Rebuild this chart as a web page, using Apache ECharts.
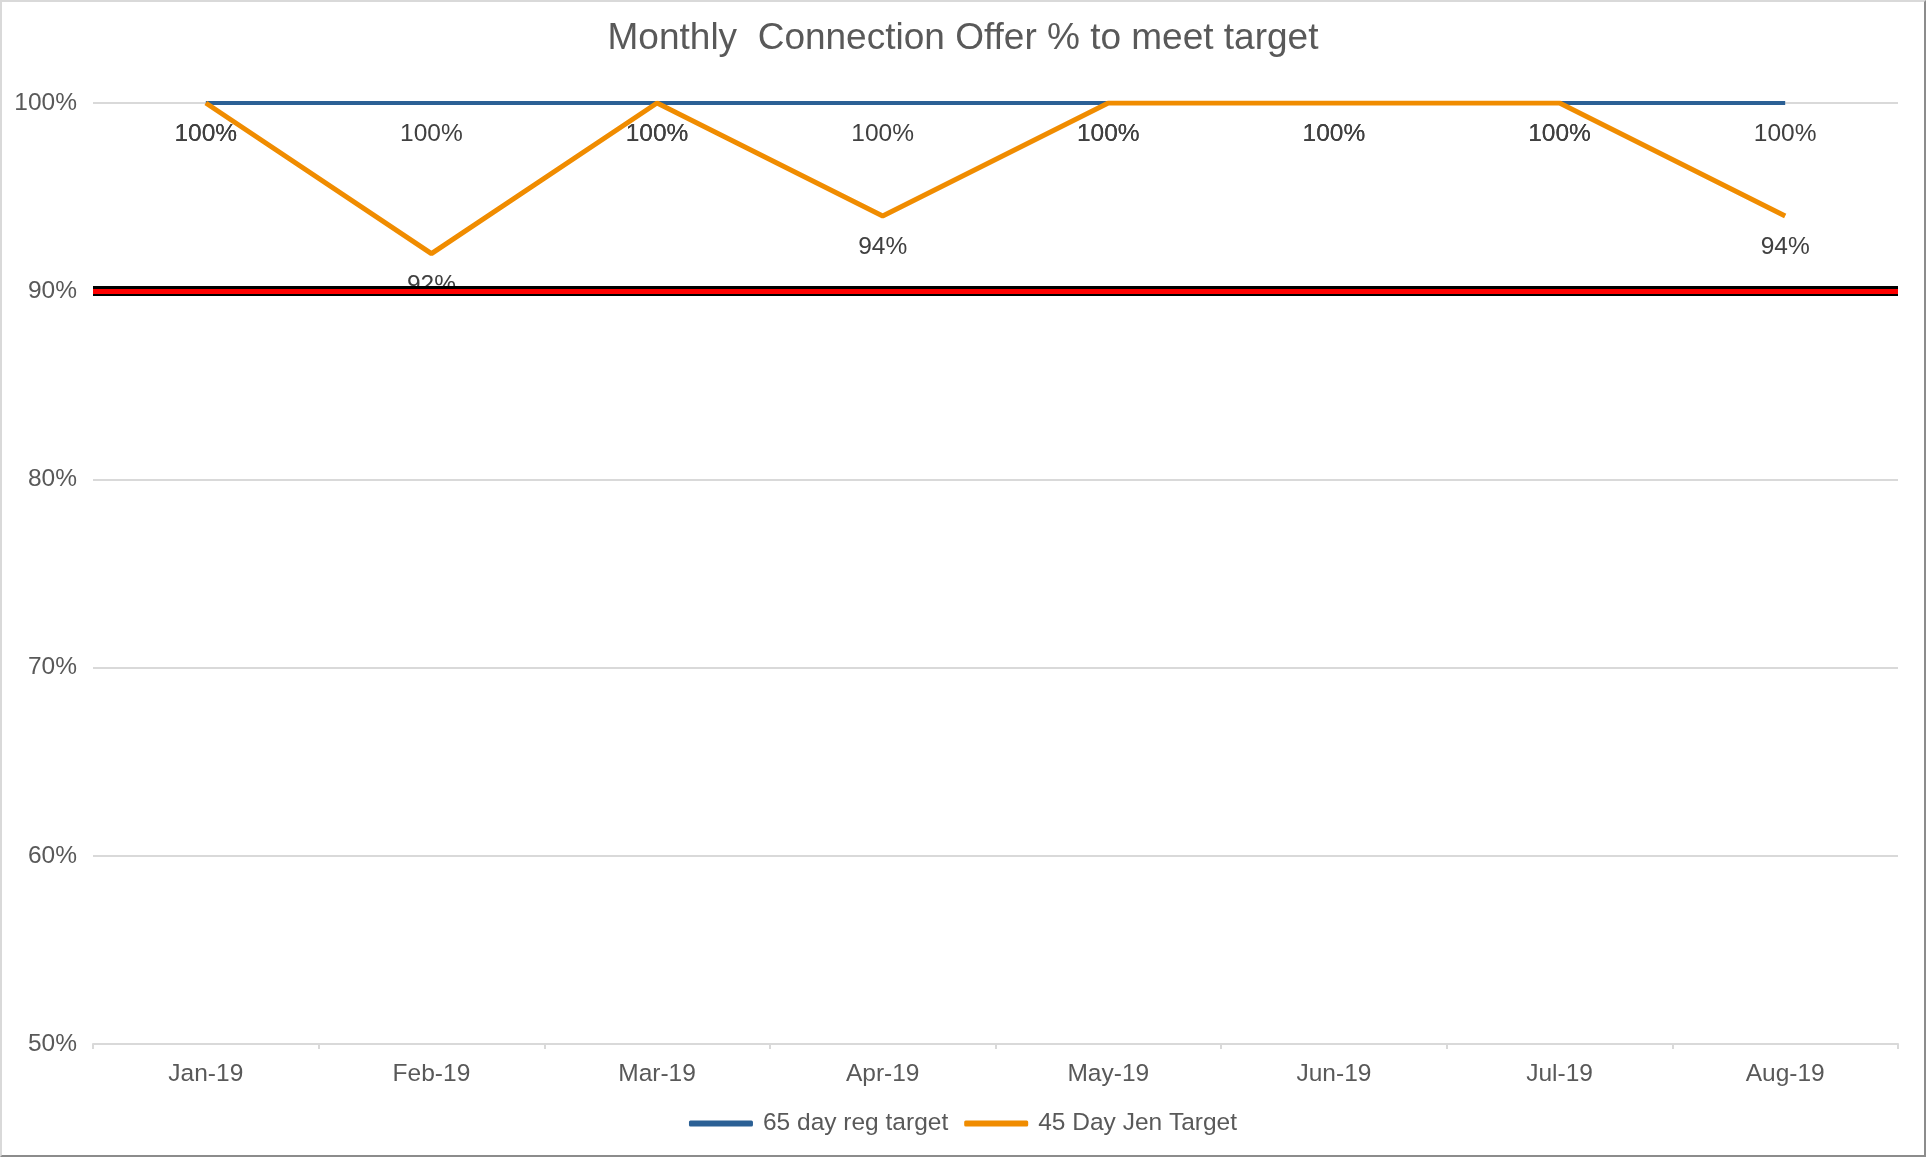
<!DOCTYPE html>
<html>
<head>
<meta charset="utf-8">
<script src="https://cdn.jsdelivr.net/npm/echarts@6/dist/echarts.min.js"></script>
<style>
  html, body { margin: 0; padding: 0; background: #fff; }
  #chart { width: 1926px; height: 1157px; box-sizing: border-box;
           border-top: 2px solid #d9d9d9; border-left: 2px solid #d9d9d9;
           border-right: 2px solid #8c8c8c; border-bottom: 2px solid #8c8c8c; }
</style>
</head>
<body>
<div id="chart"></div>
<script>
const titleText = 'Monthly  Connection Offer % to meet target';
const months = ['Jan-19', 'Feb-19', 'Mar-19', 'Apr-19', 'May-19', 'Jun-19', 'Jul-19', 'Aug-19'];
const regTarget65 = [100, 100, 100, 100, 100, 100, 100, 100];
const jenTarget45 = [100, 92, 100, 94, 100, 100, 100, 94];
const targetLevel = 90;
const yMin = 50, yMax = 100, yStep = 10;
const seriesNames = ['65 day reg target', '45 Day Jen Target'];

const chart = echarts.init(document.getElementById('chart'), null, { renderer: 'canvas' });
const font = 'Liberation Sans, Arial, sans-serif';
const labelCfg = {
  show: true, position: 'bottom', distance: 19,
  formatter: p => p.value + '%', color: '#404040', fontSize: 24.5, fontFamily: font
};
chart.setOption({
  animation: false,
  backgroundColor: '#fff',
  title: {
    text: titleText, left: 'center', top: 13,
    textStyle: { color: '#595959', fontSize: 37, fontWeight: 'normal', fontFamily: font }
  },
  legend: {
    data: seriesNames, left: 'center', top: 1104,
    icon: 'roundRect', itemWidth: 64, itemHeight: 6, itemGap: 16,
    textStyle: { color: '#595959', fontSize: 24.5, fontFamily: font, padding: [0, 0, 0, 5] }
  },
  grid: { left: 91, right: 26, top: 101, bottom: 111, containLabel: false },
  xAxis: {
    type: 'category', data: months, boundaryGap: true,
    axisLine: { lineStyle: { color: '#d9d9d9', width: 2 } },
    axisTick: { show: true, length: 5, lineStyle: { color: '#d9d9d9', width: 2 } },
    axisLabel: { color: '#595959', fontSize: 24.5, fontFamily: font, margin: 18 }
  },
  yAxis: {
    type: 'value', min: yMin, max: yMax, interval: yStep,
    axisLine: { show: false }, axisTick: { show: false },
    splitLine: { lineStyle: { color: '#d9d9d9', width: 2 } },
    axisLabel: { color: '#595959', fontSize: 24.5, fontFamily: font, margin: 16, formatter: '{value}%' }
  },
  series: [
    {
      name: seriesNames[0], type: 'line', data: regTarget65, z: 2,
      showSymbol: true, symbol: 'circle', symbolSize: 0.01,
      lineStyle: { color: '#2b6095', width: 4 }, itemStyle: { color: '#2b6095' },
      label: labelCfg
    },
    {
      name: seriesNames[1], type: 'line', data: jenTarget45, z: 2,
      showSymbol: true, symbol: 'circle', symbolSize: 0.01,
      lineStyle: { color: '#f08c00', width: 5 }, itemStyle: { color: '#f08c00' },
      label: labelCfg
    },
    {
      name: 'target', type: 'line', data: [], z: 5, silent: true,
      markLine: {
        silent: true, symbol: 'none', label: { show: false },
        data: [
          { yAxis: targetLevel, lineStyle: { color: '#000000', width: 10, type: 'solid' } },
          { yAxis: targetLevel, lineStyle: { color: '#ff0000', width: 5, type: 'solid' } }
        ]
      }
    }
  ]
});
</script>
</body>
</html>
